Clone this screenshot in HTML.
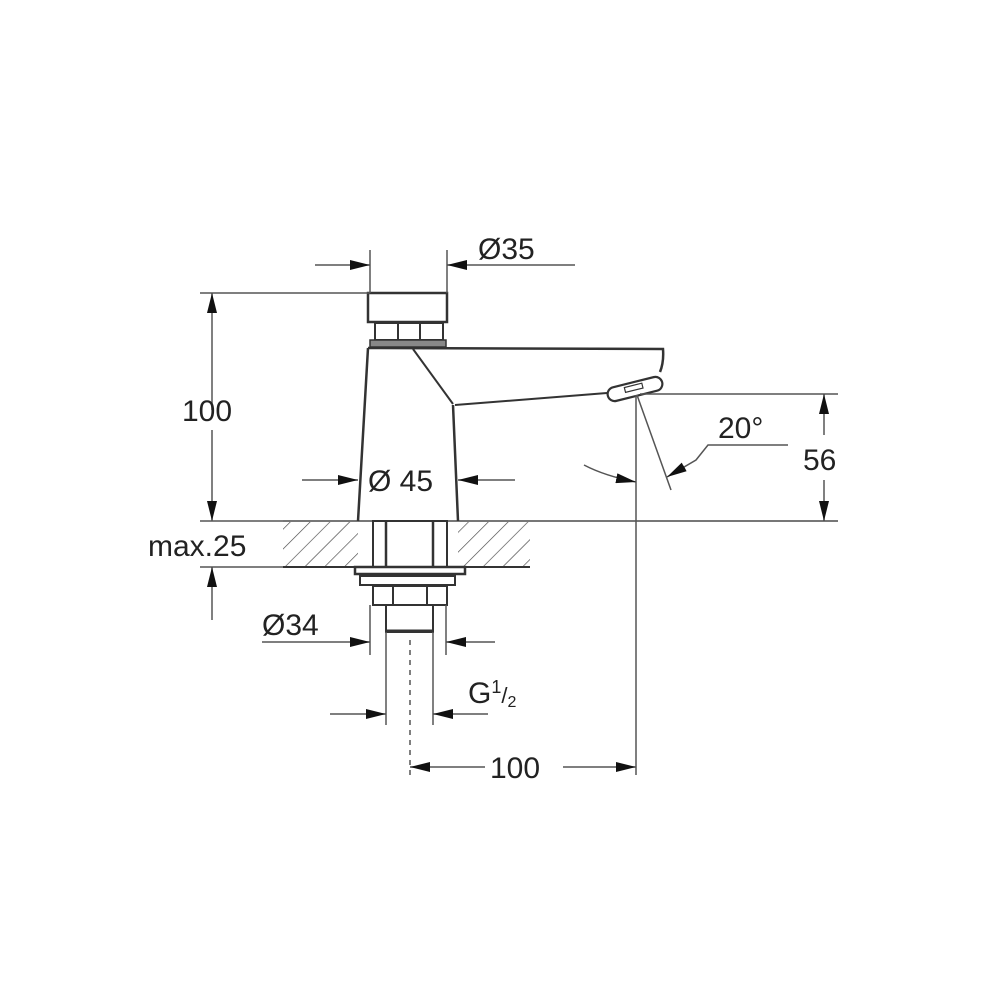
<!DOCTYPE html>
<html><head><style>html,body{margin:0;padding:0;background:#fff}svg{display:block}</style></head>
<body>
<svg width="1000" height="1000" viewBox="0 0 1000 1000" xmlns="http://www.w3.org/2000/svg">
<defs>
<pattern id="h" width="14" height="14" patternUnits="userSpaceOnUse" patternTransform="rotate(45)">
<line x1="0" y1="0" x2="0" y2="14" stroke="#444" stroke-width="1.3"/></pattern>
<marker id="a" viewBox="0 0 20 10" refX="20" refY="5" markerWidth="20" markerHeight="10" markerUnits="userSpaceOnUse" orient="auto"><path d="M0,0 L20,5 L0,10 z" fill="#111"/></marker>
</defs>
<g font-family="Liberation Sans, sans-serif" font-size="30" fill="#222">
<!-- hatched plate -->
<rect x="283" y="521" width="75" height="46" fill="url(#h)"/>
<rect x="458" y="521" width="72" height="46" fill="url(#h)"/>
<g stroke="#333" stroke-width="2" fill="none">
<line x1="283" y1="521" x2="838" y2="521" stroke="#777"/>
<line x1="283" y1="567" x2="530" y2="567"/>
<!-- body -->
<path d="M368,348 L358,521 M453,405 L458,521" stroke-width="2.5"/>
<path d="M368,348 L663,349 Q664,362 660,372" stroke-width="2.5"/>
<path d="M455,405 L607,393" stroke-width="2"/>
<path d="M413,349 L453,404"/>
<rect x="607" y="382" width="56" height="14" rx="7" transform="rotate(-14 635 389)" stroke-width="2.2" fill="#fff"/>
<rect x="625" y="385" width="18" height="5" transform="rotate(-14 635 389)" stroke-width="1.2"/>
<!-- cap -->
<rect x="368" y="293" width="79" height="29" stroke-width="2.5"/>
<rect x="375" y="323" width="68" height="17" stroke-width="2"/>
<line x1="398" y1="323" x2="398" y2="340"/><line x1="420" y1="323" x2="420" y2="340"/>
<rect x="370" y="340" width="76" height="7" fill="#888" stroke-width="1.5"/>
<!-- shank -->
<rect x="373" y="521" width="74" height="46" stroke-width="2"/>
<line x1="386" y1="521" x2="386" y2="567" stroke-width="2.5"/><line x1="433" y1="521" x2="433" y2="567" stroke-width="2.5"/>
<rect x="355" y="567" width="110" height="7" stroke-width="2.5"/>
<rect x="360" y="576" width="95" height="9" stroke-width="2"/>
<rect x="373" y="586" width="74" height="19" stroke-width="2"/>
<line x1="393" y1="586" x2="393" y2="605"/><line x1="427" y1="586" x2="427" y2="605"/>
<rect x="386" y="605" width="47" height="27" stroke-width="2"/>
<line x1="386" y1="631" x2="433" y2="631" stroke-width="3"/>
</g>
<!-- dimension lines -->
<g stroke="#555" stroke-width="1.5" fill="none">
<line x1="410" y1="640" x2="410" y2="775" stroke-dasharray="5,5"/>
<line x1="370" y1="250" x2="370" y2="293"/><line x1="447" y1="250" x2="447" y2="293"/>
<line x1="315" y1="265" x2="370" y2="265" marker-end="url(#a)"/>
<line x1="575" y1="265" x2="447" y2="265" marker-end="url(#a)"/>
<line x1="200" y1="293" x2="370" y2="293"/>
<line x1="212" y1="410" x2="212" y2="293" marker-end="url(#a)" stroke-dasharray="none"/>
<line x1="212" y1="430" x2="212" y2="521" marker-end="url(#a)"/>
<line x1="200" y1="521" x2="283" y2="521"/>
<line x1="200" y1="567" x2="283" y2="567"/>
<line x1="212" y1="620" x2="212" y2="567" marker-end="url(#a)"/>
<line x1="302" y1="480" x2="358" y2="480" marker-end="url(#a)"/>
<line x1="515" y1="480" x2="458" y2="480" marker-end="url(#a)"/>
<line x1="370" y1="605" x2="370" y2="655"/><line x1="446" y1="605" x2="446" y2="655"/>
<line x1="262" y1="642" x2="370" y2="642" marker-end="url(#a)"/>
<line x1="495" y1="642" x2="446" y2="642" marker-end="url(#a)"/>
<line x1="386" y1="632" x2="386" y2="725"/><line x1="433" y1="632" x2="433" y2="725"/>
<line x1="330" y1="714" x2="386" y2="714" marker-end="url(#a)"/>
<line x1="488" y1="714" x2="433" y2="714" marker-end="url(#a)"/>
<line x1="410" y1="767" x2="480" y2="767" stroke="none"/>
<line x1="485" y1="767" x2="410" y2="767" marker-end="url(#a)"/>
<line x1="563" y1="767" x2="636" y2="767" marker-end="url(#a)"/>
<line x1="636" y1="395" x2="636" y2="775"/>
<line x1="640" y1="394" x2="838" y2="394"/>
<line x1="824" y1="435" x2="824" y2="394" marker-end="url(#a)"/>
<line x1="824" y1="480" x2="824" y2="521" marker-end="url(#a)"/>
<line x1="637" y1="395" x2="671" y2="490"/>
<path d="M584,465 Q605,476 636,482" marker-end="url(#a)"/>
<path d="M788,445 L708,445 L696,460 L667,477" marker-end="url(#a)"/>
</g>
<text x="478" y="259">Ø35</text>
<text x="182" y="421">100</text>
<text x="148" y="556">max.25</text>
<text x="368" y="491">Ø 45</text>
<text x="262" y="635">Ø34</text>
<text x="468" y="703">G<tspan font-size="18" dy="-10">1</tspan><tspan font-size="22" dy="10">/</tspan><tspan font-size="16" dy="4">2</tspan></text>
<text x="490" y="778">100</text>
<text x="718" y="438">20°</text>
<text x="803" y="470">56</text>
</g>
</svg>
</body></html>
